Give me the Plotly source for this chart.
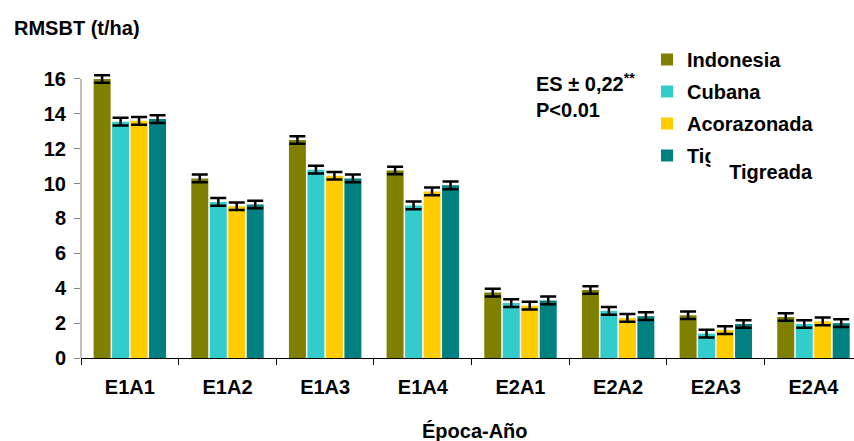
import plotly.graph_objects as go

categories = ["E1A1", "E1A2", "E1A3", "E1A4", "E2A1", "E2A2", "E2A3", "E2A4"]
indonesia = [16.0, 10.3, 12.5, 10.75, 3.75, 3.9, 2.45, 2.35]
cubana = [13.55, 8.95, 10.8, 8.75, 3.15, 2.7, 1.4, 1.95]
acorazonada = [13.6, 8.7, 10.45, 9.55, 3.0, 2.3, 1.6, 2.1]
tigreada = [13.7, 8.8, 10.3, 9.9, 3.3, 2.4, 1.95, 2.0]
es_value = 0.22
y_top = 16
y_range_top = 16.4

series_names = ["Indonesia", "Cubana", "Acorazonada", "Tigreada"]
series_values = [indonesia, cubana, acorazonada, tigreada]
series_colors = ["#808000", "#33CCCC", "#FFCC00", "#008080"]

W, H = 854, 441
Y0_PX, Y16_PX = 358, 79
PX_PER_UNIT = (Y0_PX - Y16_PX) / y_top
ML, MR, MB = 81, 0, H - Y0_PX
MT = round(Y0_PX - PX_PER_UNIT * y_range_top)
PW = W - ML - MR
PH = H - MT - MB


def px_x(p):
    return (p - ML) / PW


def px_y(p):
    return (H - MB - p) / PH


fig = go.Figure()
for i, (name, vals, col) in enumerate(zip(series_names, series_values, series_colors)):
    fig.add_trace(go.Bar(
        x=categories, y=vals, name=name, marker_color=col,
        marker_line_width=0, legendgroup=f"g{i}", cliponaxis=False,
        error_y=dict(type="constant", value=es_value, color="black",
                     thickness=2.5, width=8),
    ))

# y-axis line only up to the top tick (16), as in the reference
fig.add_shape(type="line", xref="paper", yref="y", x0=0, x1=0, y0=0, y1=y_top,
              line=dict(color="#808080", width=1), layer="above")

font_family = "Arial, 'Liberation Sans', sans-serif"
fig.update_layout(
    width=W, height=H,
    margin=dict(l=ML, r=MR, t=MT, b=MB),
    paper_bgcolor="white", plot_bgcolor="white",
    font=dict(family=font_family, size=20, color="black", weight="bold"),
    barmode="group", bargap=0.243, bargroupgap=0.08,
    showlegend=True,
    legend=dict(x=px_x(647), xanchor="left", y=px_y(40), yanchor="top",
                bgcolor="rgba(0,0,0,0)", tracegroupgap=3,
                font=dict(family=font_family, size=20, color="black", weight="bold")),
    xaxis=dict(range=[-0.5, 7.415], showline=True, linecolor="black", linewidth=1,
               ticks="outside", tickson="boundaries", ticklen=6, tickcolor="black",
               ticklabelstandoff=11,
               showgrid=False, zeroline=False),
    yaxis=dict(range=[0, y_range_top], tickvals=list(range(0, 17, 2)), showline=False,
               ticks="outside", ticklen=6, tickcolor="#808080", ticklabelstandoff=4,
               showgrid=False, zeroline=False),
    annotations=[
        dict(text="RMSBT (t/ha)", xref="paper", yref="paper", x=px_x(12), y=px_y(28),
             xanchor="left", yanchor="middle", showarrow=False),
        dict(text="Época-Año", xref="paper", yref="paper", x=px_x(475), y=px_y(431),
             xanchor="center", yanchor="middle", showarrow=False),
        dict(text="ES ± 0,22<sup>**</sup><br>P<0.01", xref="paper", yref="paper",
             x=px_x(534), y=px_y(68), xanchor="left", yanchor="top", align="left",
             showarrow=False),
        dict(text="Tigreada", xref="paper", yref="paper", x=px_x(710), y=px_y(186),
             xanchor="left", yanchor="bottom", width=100, height=36, align="right",
             valign="bottom", borderpad=2, bgcolor="white", showarrow=False),
    ],
)

fig.write_html("out.html", config={"displayModeBar": False},
               post_script="document.body.style.margin='0';")
